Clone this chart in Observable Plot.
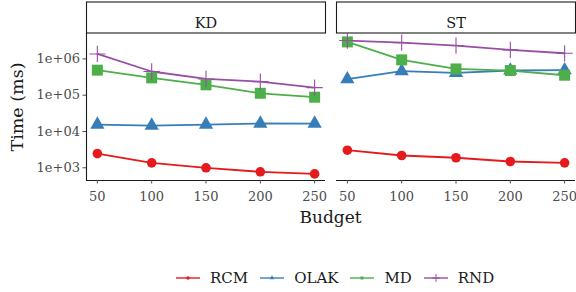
<!DOCTYPE html>
<html>
<head>
<meta charset="utf-8">
<script src="https://cdn.jsdelivr.net/npm/d3@7"></script>
<script src="https://cdn.jsdelivr.net/npm/@observablehq/plot@0.6"></script>
<style>
  html, body { margin: 0; padding: 0; background: #fff; }
  #wrap { position: relative; width: 576px; height: 292px; font-family: "DejaVu Serif", serif; color: #1a1a1a; }
  #xlabel { position: absolute; left: 86px; width: 489px; top: 206px; text-align: center; font-size: 17px; line-height: 22px; }
  #legend { position: absolute; left: 176px; top: 267px; display: flex; align-items: center; font-size: 15px; line-height: 22px; }
  .item { display: flex; align-items: center; margin-right: 12px; }
  .item svg { margin-right: 10px; }
</style>
</head>
<body>
<div id="wrap">
  <div id="chart"></div>
  <div id="xlabel">Budget</div>
  <div id="legend"></div>
</div>
<script>
// ---- data ----
const budgets = [50, 100, 150, 200, 250];
const facets = ["KD", "ST"];
const seriesNames = ["RCM", "OLAK", "MD", "RND"];
const seriesColors = ["#E41A1C", "#377EB8", "#4DAF4A", "#984EA3"];
const seriesSymbols = ["circle", "triangle", "square", "plus"];
const yTicks = [1e3, 1e4, 1e5, 1e6];
const xTitle = "Budget";
const yTitle = "Time (ms)";

const kdRCM  = [2460, 1370, 1000, 775, 680];
const kdOLAK = [15500, 14600, 15500, 16600, 16500];
const kdMD   = [490000, 300000, 193000, 113000, 88000];
const kdRND  = [1370000, 450000, 280000, 237000, 162000];

const stRCM  = [3050, 2180, 1890, 1490, 1370];
const stOLAK = [277000, 458000, 414000, 480000, 490000];
const stMD   = [2940000, 940000, 530000, 478000, 355000];
const stRND  = [3200000, 2800000, 2330000, 1770000, 1430000];

const table = {
  KD: { RCM: kdRCM, OLAK: kdOLAK, MD: kdMD, RND: kdRND },
  ST: { RCM: stRCM, OLAK: stOLAK, MD: stMD, RND: stRND }
};
const rows = [];
for (const f of facets) for (const s of seriesNames)
  budgets.forEach((b, i) => rows.push({ facet: f, series: s, budget: b, time: table[f][s][i] }));

// ---- layout ----
const W = 576, H = 207, mt = 33, mb = 27, ml = 86, mr = 1;
const panelH = H - mt - mb;
const yMin = Math.pow(10, 2.65), yMax = Math.pow(10, 6.70);
const ink = "#1a1a1a", grey = "#4d4d4d";
const markerR = { circle: 4.8, triangle: 5.3, square: 6.2, plus: 5.3 };

const dotMarks = seriesNames.map((s, i) => {
  const sym = seriesSymbols[i];
  const data = rows.filter(d => d.series === s);
  return sym === "plus"
    ? Plot.dot(data, { fx: "facet", x: "budget", y: "time", stroke: "series", symbol: "series", r: markerR[sym], strokeWidth: 1.1 })
    : Plot.dot(data, { fx: "facet", x: "budget", y: "time", fill: "series", symbol: "series", r: markerR[sym] });
});

const chart = Plot.plot({
  width: W, height: H,
  marginTop: mt, marginBottom: mb, marginLeft: ml, marginRight: mr,
  style: { fontFamily: "DejaVu Serif, serif", background: "white", overflow: "visible" },
  fx: { domain: facets, paddingInner: 0.044, paddingOuter: 0, axis: null, label: null },
  x: { domain: [40, 260], label: null },
  y: { type: "log", domain: [yMin, yMax], label: null },
  color: { domain: seriesNames, range: seriesColors },
  symbol: { domain: seriesNames, range: seriesSymbols },
  marks: [
    // strips
    Plot.frame({ fill: "white", stroke: ink, strokeWidth: 1.1, insetTop: -31.5, insetBottom: panelH + 0.5 }),
    Plot.text(facets, { fx: d => d, text: d => d, frameAnchor: "top", dy: -16, fontSize: 14.5, fill: ink }),
    // axis lines
    Plot.ruleY([yMin], { stroke: ink, strokeWidth: 1.1 }),
    Plot.ruleX([40], { fx: ["KD"], stroke: ink, strokeWidth: 1.1 }),
    // axes
    Plot.axisY({ ticks: yTicks, tickFormat: d => "1e+0" + Math.round(Math.log10(d)), tickSize: 3.5, tickPadding: 3, fontSize: 13, color: grey, label: null }),
    Plot.axisX({ ticks: budgets, tickSize: 3.5, tickPadding: 8, fontSize: 13, color: grey, label: null }),
    Plot.text([yTitle], { fx: ["KD"], text: d => d, frameAnchor: "left", textAnchor: "middle", rotate: -90, dx: -69, fontSize: 17.5, fill: ink }),
    // series
    Plot.line(rows, { fx: "facet", x: "budget", y: "time", stroke: "series", strokeWidth: 1.8 }),
    ...dotMarks
  ]
});
document.getElementById("chart").appendChild(chart);
document.getElementById("xlabel").textContent = xTitle;

// ---- legend ----
const legend = d3.select("#legend");
seriesNames.forEach((name, i) => {
  const item = legend.append("div").attr("class", "item");
  const svg = item.append("svg").attr("width", 24).attr("height", 12);
  svg.append("line").attr("x1", 0).attr("x2", 24).attr("y1", 6).attr("y2", 6)
    .attr("stroke", seriesColors[i]).attr("stroke-width", 1.4);
  const g = svg.append("g").attr("transform", "translate(12,6)");
  const sym = seriesSymbols[i];
  if (sym === "plus") {
    g.append("path").attr("d", d3.symbol(d3.symbolPlus, 22)()).attr("fill", "none").attr("stroke", seriesColors[i]).attr("stroke-width", 1);
  } else {
    const t = sym === "circle" ? d3.symbolCircle : sym === "triangle" ? d3.symbolTriangle : d3.symbolSquare;
    g.append("path").attr("d", d3.symbol(t, 9)()).attr("fill", seriesColors[i]);
  }
  item.append("span").text(name);
});
</script>
</body>
</html>
